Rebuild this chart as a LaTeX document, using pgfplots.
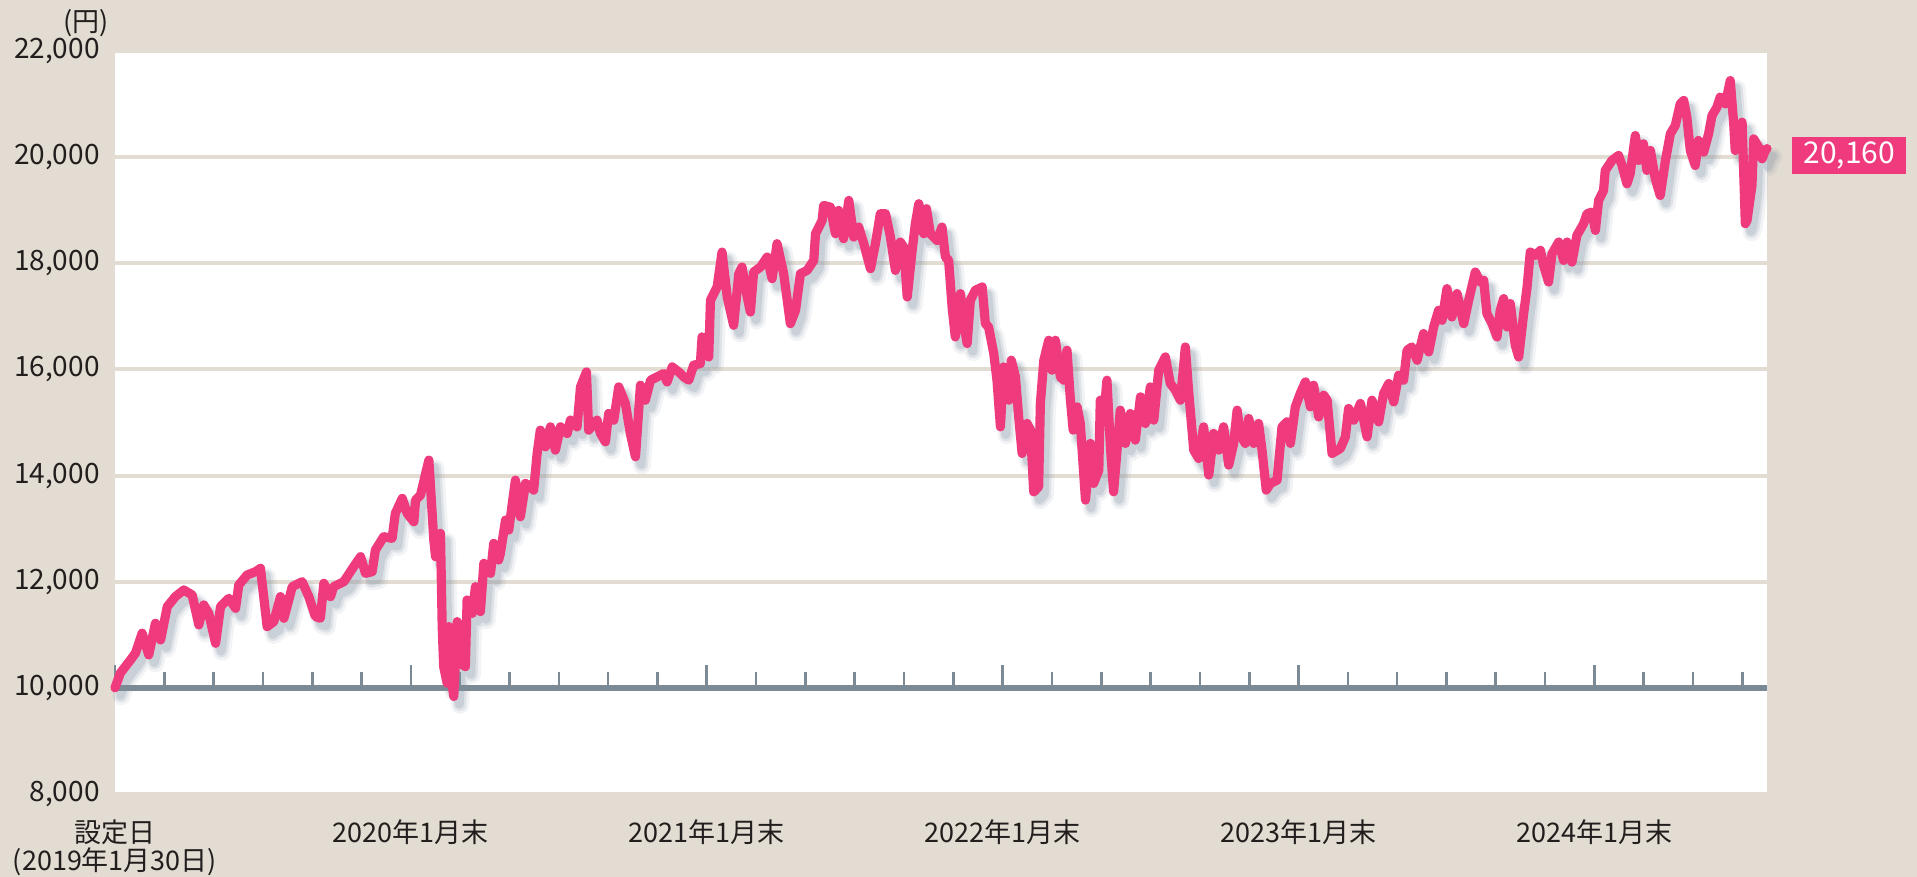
\documentclass[border=0pt]{standalone}
\usepackage{fontspec}
\setmainfont{Noto Sans CJK JP}
\usepackage{pgfplots}
\usepackage{pgfplotstable}
\pgfplotsset{compat=1.18}
\definecolor{bgc}{RGB}{226,220,210}
\definecolor{linec}{RGB}{239,58,126}
\definecolor{basec}{RGB}{124,138,150}
\definecolor{shadc}{RGB}{130,145,162}
\definecolor{txt}{RGB}{35,30,30}
\pgfplotstableread{
m v
0 10000
0.22 10280
0.63 10527
0.83 10654
1.10 11029
1.37 10621
1.64 11217
1.85 10903
2.12 11530
2.45 11719
2.79 11844
3.13 11750
3.40 11186
3.60 11562
3.80 11405
4.08 10840
4.28 11530
4.62 11688
4.89 11499
5.02 11938
5.36 12127
5.70 12189
5.90 12252
6.17 11154
6.44 11248
6.71 11719
6.85 11311
7.19 11907
7.59 12000
7.86 11719
8.13 11342
8.33 11311
8.47 11970
8.74 11719
8.87 11907
9.28 12000
9.68 12283
9.96 12471
10.16 12158
10.43 12189
10.56 12597
10.90 12848
11.24 12817
11.37 13288
11.65 13570
11.85 13288
12.12 13130
12.19 13538
12.39 13632
12.73 14291
12.93 12785
13.00 12471
13.20 12911
13.27 11154
13.33 10401
13.47 10088
13.54 11154
13.61 10276
13.74 9837
13.88 11248
14.01 10464
14.21 10401
14.28 11656
14.49 11405
14.62 11907
14.82 11436
14.96 12346
15.23 12158
15.36 12723
15.56 12409
15.63 12535
15.84 13162
15.97 12974
16.24 13914
16.44 13224
16.65 13852
16.85 13790
16.98 13726
17.12 14417
17.25 14856
17.46 14542
17.66 14918
17.86 14479
18.07 14918
18.34 14793
18.47 15044
18.74 14918
18.88 15671
19.12 15953
19.21 14856
19.55 15044
19.69 14793
19.89 14636
20.02 15169
20.23 15044
20.43 15671
20.70 15358
20.90 14793
21.11 14354
21.31 15702
21.51 15420
21.72 15797
21.99 15859
22.25 15922
22.39 15765
22.60 16047
22.86 15953
23.07 15859
23.27 15797
23.47 16079
23.74 16110
23.81 16612
23.95 16423
24.08 16235
24.15 17302
24.42 17553
24.62 18211
24.83 17365
25.09 16832
25.30 17804
25.43 17929
25.64 17365
25.77 17082
25.90 17835
26.18 17929
26.45 18117
26.65 17710
26.85 18369
27.12 17804
27.39 16863
27.60 17114
27.80 17804
28.07 17866
28.34 18055
28.41 18557
28.68 18808
28.74 19090
29.01 19059
29.22 18557
29.35 18996
29.55 18463
29.76 19184
29.96 18494
30.16 18682
30.37 18369
30.64 17898
30.84 18369
31.04 18933
31.25 18933
31.45 18494
31.65 17866
31.85 18400
31.99 18300
32.13 17365
32.33 18243
32.46 18745
32.60 19122
32.80 18557
32.91 19028
33.07 18557
33.34 18431
33.54 18682
33.68 18117
33.81 18054
33.95 17177
34.08 16612
34.29 17428
34.42 16863
34.56 16487
34.69 17302
34.89 17490
35.17 17553
35.30 16863
35.43 16800
35.64 16299
35.77 15797
35.91 14918
36.04 16047
36.25 15420
36.35 16173
36.52 15859
36.65 15106
36.79 14417
36.99 14981
37.13 14856
37.26 13694
37.46 13788
37.53 15358
37.67 16173
37.87 16549
38.00 15985
38.14 16549
38.34 15859
38.48 15797
38.61 16361
38.75 15420
38.86 14856
39.02 15294
39.15 14981
39.36 13538
39.56 14606
39.69 13852
39.90 14103
39.96 15420
40.10 15106
40.23 15797
40.37 14542
40.50 13694
40.64 14479
40.77 15232
40.98 14606
41.18 15169
41.38 14668
41.59 15483
41.79 14981
41.99 15671
42.13 15044
42.33 15985
42.60 16235
42.80 15734
43.01 15608
43.21 15420
43.41 16423
43.54 15608
43.75 14479
43.95 14323
44.15 14918
44.36 14010
44.56 14793
44.76 14479
44.96 14918
45.17 14197
45.37 14606
45.51 15232
45.64 14761
45.84 14606
45.98 15075
46.18 14606
46.38 14981
46.52 14479
46.69 13726
46.86 13852
47.13 13914
47.33 14918
47.53 15012
47.67 14606
47.87 15294
48.07 15546
48.28 15765
48.48 15294
48.61 15702
48.82 15106
49.02 15514
49.16 15420
49.36 14417
49.70 14511
49.90 14730
50.03 15264
50.24 15044
50.51 15358
50.78 14730
50.98 15420
51.25 15012
51.45 15546
51.66 15734
51.86 15388
52.06 15891
52.26 15797
52.40 16361
52.60 16423
52.81 16173
53.07 16675
53.28 16330
53.48 16800
53.68 17114
53.82 16926
54.02 17522
54.22 16988
54.43 17428
54.70 16863
54.90 17302
55.17 17835
55.37 17647
55.51 17678
55.64 17051
55.85 16863
56.05 16612
56.18 17114
56.32 17334
56.46 16800
56.59 17240
56.79 16455
56.93 16235
57.13 17051
57.27 17553
57.40 18211
57.60 18148
57.81 18243
57.94 17961
58.14 17647
58.28 18180
58.55 18400
58.75 18054
58.89 18400
59.09 18023
59.29 18526
59.56 18745
59.70 18933
59.90 18965
60.04 18620
60.17 19184
60.37 19372
60.44 19749
60.71 19937
60.98 20031
61.12 19843
61.32 19498
61.45 19686
61.66 20407
61.79 19937
61.99 20251
62.13 19749
62.27 20125
62.47 19592
62.67 19278
62.88 19937
63.08 20439
63.28 20596
63.48 21004
63.62 21067
63.75 20752
63.89 20125
64.09 19843
64.22 20313
64.43 20094
64.63 20439
64.77 20784
64.97 20941
65.10 21129
65.31 21004
65.51 21443
65.65 20627
65.71 20125
65.99 20659
66.12 18745
66.19 18808
66.39 19467
66.46 20344
66.66 20188
66.80 19969
66.93 20125
67.00 20160
}\navdata
\begin{document}
\begin{tikzpicture}
\fill[bgc] (0,0) rectangle (958.5pt,438.5pt);
\begin{axis}[
  at={(57.5pt,41.5pt)}, anchor=south west,
  scale only axis, width=826pt, height=371.5pt,
  xmin=0, xmax=67, ymin=8000, ymax=22000,
  scaled y ticks=false, scaled x ticks=false,
  clip=false,
  axis background/.style={fill=white},
  axis line style={draw=none},
  tick style={draw=none},
  major tick length=0pt,
  ytick={8000,10000,...,22000},
  yticklabels={{8,000},{10,000},{12,000},{14,000},{16,000},{18,000},{20,000},{22,000}},
  ymajorgrids, grid style={bgc, line width=2pt},
  xtick={0,12,24,36,48,60},
  xticklabels={{設定日\\(2019年1月30日)},{2020年1月末},{2021年1月末},{2022年1月末},{2023年1月末},{2024年1月末}},
  xticklabel style={align=center, anchor=north, inner sep=0pt, yshift=-12.5pt, text=txt, font=\fontsize{13.5}{14}\selectfont},
  yticklabel style={anchor=east, inner sep=0pt, xshift=-7.5pt, text=txt, font=\fontsize{14}{16}\selectfont},
]
\addplot[shadc, opacity=0.10, line width=9pt, line join=round, line cap=round, xshift=3.2pt, yshift=-4.2pt] table[x=m,y=v] {\navdata};
\addplot[shadc, opacity=0.16, line width=6.5pt, line join=round, line cap=round, xshift=3pt, yshift=-4pt] table[x=m,y=v] {\navdata};
\addplot[shadc, opacity=0.22, line width=4.5pt, line join=round, line cap=round, xshift=2.8pt, yshift=-3.8pt] table[x=m,y=v] {\navdata};
\draw[basec, line width=3pt] (axis cs:0,10000) -- (axis cs:67,10000);
\pgfplotsinvokeforeach{0,2,...,66}{\draw[basec, line width=1.3pt] (axis cs:#1,10000) -- ++(0pt,8pt);}
\pgfplotsinvokeforeach{0,12,...,60}{\draw[basec, line width=1.3pt] (axis cs:#1,10000) -- ++(0pt,11.5pt);}
\addplot[linec, line width=4.6pt, line join=round, line cap=round] table[x=m,y=v] {\navdata};
\node[fill=linec, text=white, font=\fontsize{15}{16}\selectfont, minimum width=57pt, minimum height=18.5pt, inner sep=0pt, anchor=west] at ([xshift=12.5pt, yshift=-3.2pt]axis cs:67,20160) {20,160};
\node[anchor=east, inner sep=0pt, text=txt, font=\fontsize{13.5}{14}\selectfont] at ([xshift=-3pt, yshift=14pt]rel axis cs:0,1) {(円)};
\end{axis}
\pgfresetboundingbox
\useasboundingbox (0,0) rectangle (958.5pt,438.5pt);
\end{tikzpicture}
\end{document}
